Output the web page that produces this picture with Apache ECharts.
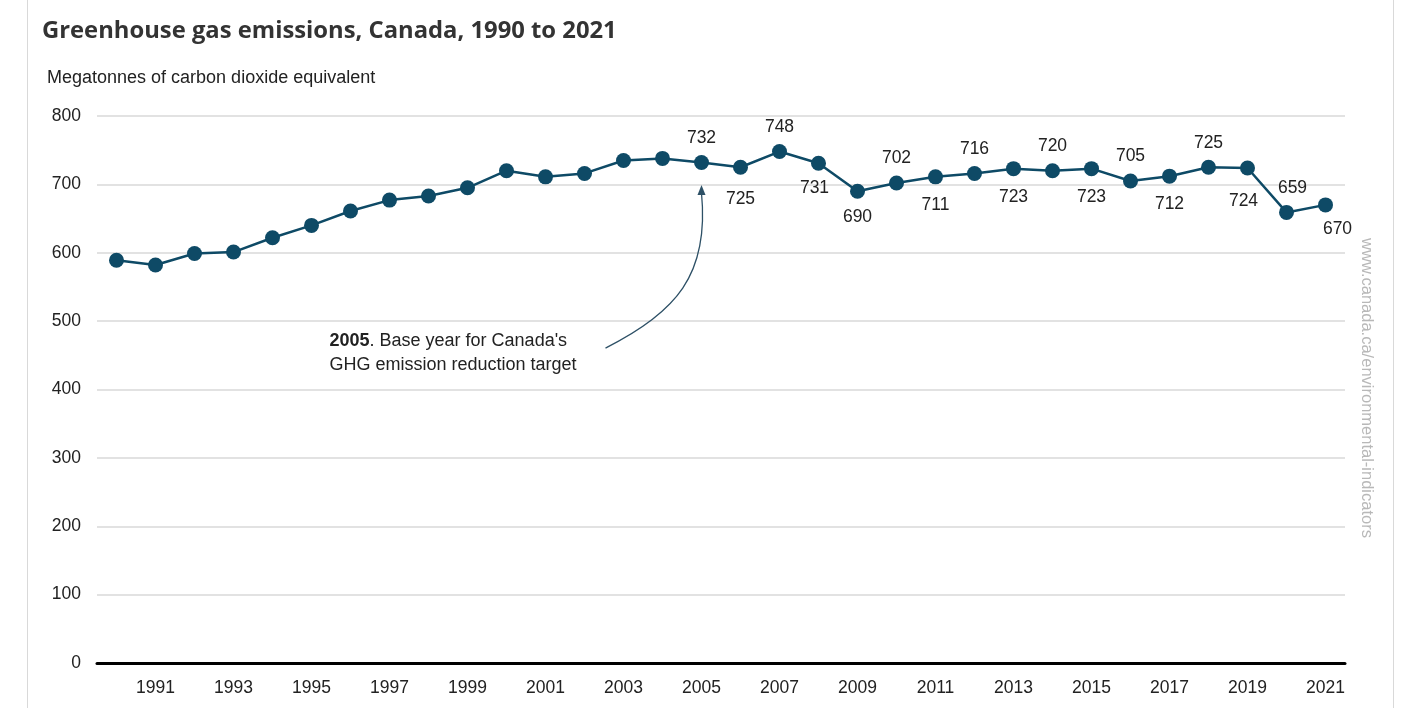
<!DOCTYPE html>
<html>
<head>
<meta charset="utf-8">
<script src="https://cdn.jsdelivr.net/npm/echarts@6/dist/echarts.min.js"></script>
<style>
html,body{margin:0;padding:0;background:#fff;}
#frame{position:absolute;left:27px;top:0;width:1367px;height:708px;border-left:1px solid #d9d9d9;border-right:1px solid #d9d9d9;box-sizing:border-box;}
#chart{position:absolute;left:0;top:0;width:1411px;height:708px;}
</style>
</head>
<body>
<div id="frame"></div>
<div id="chart"></div>
<script>
const titleText = 'Greenhouse gas emissions, Canada, 1990 to 2021';
const yAxisTitle = 'Megatonnes of carbon dioxide equivalent';
const years = ['1990','1991','1992','1993','1994','1995','1996','1997','1998','1999','2000','2001','2002','2003','2004','2005','2006','2007','2008','2009','2010','2011','2012','2013','2014','2015','2016','2017','2018','2019','2020','2021'];
const emissions = [589,582,599,601,622,640,661,677,683,695,720,711,716,735,738,732,725,748,731,690,702,711,716,723,720,723,705,712,725,724,659,670];
// label placement for labelled years (null = no label)
const labelPlacement = [null,null,null,null,null,null,null,null,null,null,null,null,null,null,null,'top','bottom','top','bottom','bottom','top','bottom','top','bottom','top','bottom','top','bottom','top','bottom','top','bottom'];
const yTicks = [0,100,200,300,400,500,600,700,800];
const annotationYear = '2005';
const annotationBold = '2005';
const annotationRest = ". Base year for Canada's";
const annotationLine2 = 'GHG emission reduction target';
const sourceText = 'www.canada.ca/environmental-indicators';

const chart = echarts.init(document.getElementById('chart'));
const lineColor = '#0e4a66';
const txtFont = 'Liberation Sans';
const txtSize = 17.5;

const seriesData = emissions.map((v, i) => {
  const pos = labelPlacement[i];
  const item = { value: v };
  if (pos) {
    item.label = { show: true, position: pos, distance: pos === 'top' ? 8 : 12 };
    if (years[i] === '2021') item.label.offset = [12, -4];
    if (years[i] === '2020') item.label.offset = [6, 0];
    if (years[i] === '2019') item.label.offset = [-4, 5];
    if (years[i] === '2008') item.label.offset = [-4, -4];
    if (years[i] === '2006') item.label.offset = [0, 3];
    if (years[i] === '2009') item.label.offset = [0, -3];
  } else {
    item.label = { show: false };
  }
  return item;
});

chart.setOption({
  animation: false,
  title: {
    text: titleText,
    left: 37, top: 14,
    textStyle: { fontFamily: 'Open Sans', fontWeight: 'bold', fontSize: 23.8, color: '#333' }
  },
  grid: { left: 97, right: 66, top: 116, bottom: 45, containLabel: false },
  xAxis: {
    type: 'category',
    data: years,
    boundaryGap: true,
    axisLine: { show: true, lineStyle: { color: '#000', width: 3 } },
    axisTick: { show: false },
    axisLabel: {
      interval: (idx) => idx % 2 === 1,
      margin: 16,
      fontFamily: txtFont, fontSize: txtSize, color: '#222'
    },
    splitLine: { show: false }
  },
  yAxis: {
    type: 'value',
    min: yTicks[0], max: yTicks[yTicks.length - 1], interval: 100,
    name: yAxisTitle,
    nameLocation: 'end',
    nameGap: 29,
    nameTextStyle: { align: 'left', fontFamily: txtFont, fontSize: 18, color: '#222', padding: [0, 0, 0, -50] },
    axisLine: { show: false },
    axisTick: { show: false },
    axisLabel: { margin: 16, fontFamily: txtFont, fontSize: txtSize, color: '#222' },
    splitLine: { lineStyle: { color: '#d9d9d9', width: 1.5 } }
  },
  series: [{
    type: 'line',
    data: seriesData,
    symbol: 'circle',
    symbolSize: 15,
    lineStyle: { color: lineColor, width: 2.5 },
    itemStyle: { color: lineColor },
    label: { fontFamily: txtFont, fontSize: txtSize, color: '#222' },
    z: 3
  }]
});

function addGraphics() {
  const tip = chart.convertToPixel({ xAxisIndex: 0, yAxisIndex: 0 }, [annotationYear, 699]);
  const tail = [tip[0] - 96, tip[1] + 163];
  const textLeft = tip[0] - 372;
  const textTop = tip[1] + 144;
  const wmPos = chart.convertToPixel({ xAxisIndex: 0, yAxisIndex: 0 }, [years[years.length - 1], 400]);
  chart.setOption({
    graphic: [
      {
        type: 'bezierCurve',
        shape: {
          x1: tail[0], y1: tail[1],
          x2: tip[0], y2: tip[1] + 8,
          cpx1: tail[0] + 70, cpy1: tail[1] - 35,
          cpx2: tip[0] + 8, cpy2: tip[1] + 90
        },
        style: { stroke: '#2d5066', lineWidth: 1.3, fill: null },
        z: 10
      },
      {
        type: 'polygon',
        shape: { points: [[tip[0], tip[1]], [tip[0] - 4, tip[1] + 10], [tip[0] + 4, tip[1] + 10]] },
        style: { fill: '#2d5066' },
        z: 10
      },
      {
        type: 'text',
        left: textLeft, top: textTop,
        style: {
          text: '{b|' + annotationBold + '}' + annotationRest + '\n' + annotationLine2,
          font: '18px "Liberation Sans"',
          fill: '#222',
          lineHeight: 24,
          rich: {
            b: { fontWeight: 'bold', fontFamily: txtFont, fontSize: 18, fill: '#222', lineHeight: 24 }
          }
        },
        z: 10
      },
      {
        type: 'text',
        x: wmPos[0] + 41, y: 388,
        rotation: -Math.PI / 2,
        style: {
          text: sourceText,
          font: '16.5px "Liberation Sans"',
          fill: '#b8b8b8',
          align: 'center',
          verticalAlign: 'middle'
        },
        z: 10
      }
    ]
  });
}
addGraphics();
</script>
</body>
</html>
